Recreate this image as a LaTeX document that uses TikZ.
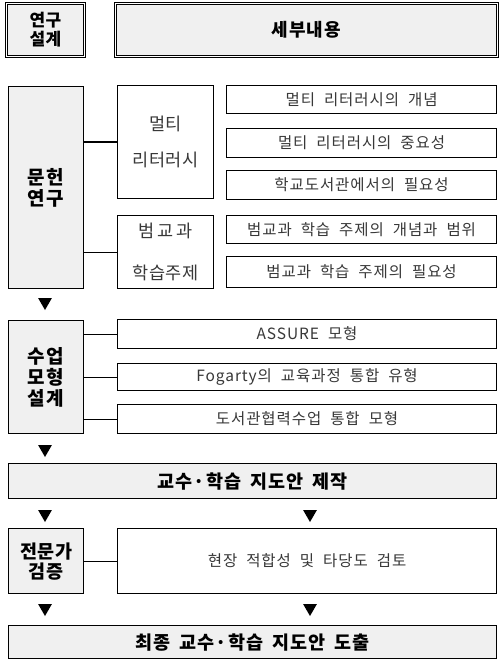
\documentclass[tikz,border=0pt]{standalone}
\usepackage{fontspec}
\setmainfont{Noto Sans CJK KR}
\usepackage{xcolor}
\usetikzlibrary{shapes.geometric,positioning}
\definecolor{boxgray}{HTML}{F0F0F0}
% size, baseline, letter spacing, word space
\newcommand{\krfont}[4]{\fontsize{#1}{#2}\selectfont\addfontfeatures{LetterSpace=#3}\spaceskip=#4pt\relax}
\tikzset{
  grayblock/.style={draw,line width=1.4pt,fill=boxgray,align=center,inner sep=0pt,anchor=north west,
    font=\bfseries\krfont{19}{21}{8}{6}},
  wideblock/.style={grayblock,font=\bfseries\krfont{18.5}{20}{6}{9}},
  headblock/.style={grayblock,double,double distance=1.6pt,line width=0.8pt,
    font=\bfseries\krfont{17}{19}{3}{6}},
  itemblock/.style={draw,line width=1.1pt,fill=white,inner sep=0pt,anchor=north west,text=black!78,
    font=\krfont{15.5}{17}{6}{9}},
  midblock/.style={itemblock,align=center,font=\krfont{17.5}{36}{4}{6}},
  tri/.style={regular polygon,regular polygon sides=3,shape border rotate=180,fill=black,
    inner sep=0pt,minimum size=16pt},
  link/.style={line width=1.1pt}
}
\begin{document}
\begin{tikzpicture}[x=1pt,y=-1pt]
\useasboundingbox (0,0) rectangle (498,660);
% header
\node[headblock,minimum width=78pt,minimum height=53pt] (h1) at (6,3) {연구\\설계};
\node[headblock,minimum width=382pt,minimum height=53pt,font=\bfseries\krfont{18}{20}{5}{6}] (h2) at (115,3) {세부내용};
% literature
\node[grayblock,minimum width=75pt,minimum height=202pt] (lit) at (8,86) {문헌\\연구};
\node[midblock,minimum width=96pt,minimum height=113pt] (multi) at (117,85) {멀티\\리터러시};
\node[midblock,minimum width=96pt,minimum height=73pt,font=\krfont{17.5}{42}{4}{6}] (cross) at (117,215) {범\,교\,과\\학습주제};
\node[itemblock,minimum width=270pt,minimum height=28pt] (m1) at (226,85) {멀티 리터러시의 개념};
\node[itemblock,minimum width=270pt,minimum height=29pt] (m2) at (226,128) {멀티 리터러시의 중요성};
\node[itemblock,minimum width=270pt,minimum height=29pt] (m3) at (226,170) {학교도서관에서의 필요성};
\node[itemblock,minimum width=270pt,minimum height=28pt] (c1) at (226,215) {범교과 학습 주제의 개념과 범위};
\node[itemblock,minimum width=270pt,minimum height=31pt] (c2) at (226,256) {범교과 학습 주제의 필요성};
\draw[link] (multi.west -| lit.east) -- (multi.west);
\draw[link] (cross.west -| lit.east) -- (cross.west);
\node[tri] (t1) at (45,302) {};
% lesson model
\node[grayblock,minimum width=75pt,minimum height=113pt] (model) at (8,320) {수업\\모형\\설계};
\node[itemblock,minimum width=379pt,minimum height=29pt] (a1) at (117,319) {ASSURE 모형};
\node[itemblock,minimum width=379pt,minimum height=27pt] (a2) at (117,363) {Fogarty의 교육과정 통합 유형};
\node[itemblock,minimum width=379pt,minimum height=29pt] (a3) at (117,404) {도서관협력수업 통합 모형};
\foreach \n in {a1,a2,a3}
  \draw[link] (\n.west -| model.east) -- (\n.west);
\node[tri] (t2) at (45,449) {};
% making
\node[wideblock,minimum width=488pt,minimum height=35pt] (make) at (8,463) {교수·학습 지도안 제작};
\node[tri] (t3) at (45,514) {};
\node[tri] (t4) at (310,514) {};
% expert
\node[grayblock,minimum width=75pt,minimum height=65pt,font=\bfseries\krfont{18.5}{20}{2}{6}] (expert) at (8,528) {전문가\\검증};
\node[itemblock,minimum width=379pt,minimum height=65pt] (review) at (117,528) {현장 적합성 및 타당도 검토};
\draw[link] (review.west -| expert.east) -- (review.west);
\node[tri] (t5) at (45,608) {};
\node[tri] (t6) at (310,608) {};
% final
\node[wideblock,minimum width=488pt,minimum height=33pt] (final) at (8,625) {최종 교수·학습 지도안 도출};
\end{tikzpicture}
\end{document}
